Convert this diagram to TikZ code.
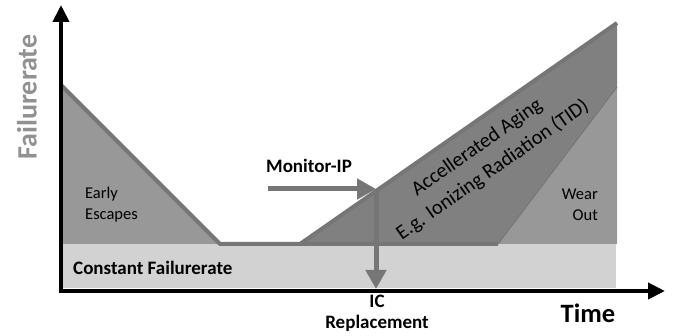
\documentclass[tikz,border=0pt]{standalone}
\usepackage{fontspec}
\setmainfont{Carlito}
\usetikzlibrary{arrows.meta}
\definecolor{lightarea}{RGB}{210,210,210}
\definecolor{midarea}{RGB}{152,152,152}
\definecolor{darkarea}{RGB}{128,128,128}
\definecolor{edgegray}{RGB}{118,118,118}
\definecolor{labelgray}{RGB}{145,145,145}

\begin{document}
\begin{tikzpicture}[x=1pt,y=-1pt,>=Latex]
\tikzstyle{edgeline}=[edgegray,line width=4pt,line join=round]
\tikzstyle{axisline}=[black,line width=4pt,-{Triangle[length=17pt,width=16pt]}]
\tikzstyle{markarrow}=[edgegray,line width=5pt,-{Triangle[length=19pt,width=20pt]}]
\tikzstyle{plainlabel}=[inner sep=0pt,font=\fontsize{16.5}{21}\selectfont]
\tikzstyle{boldlabel}=[inner sep=0pt,font=\fontsize{19}{21}\selectfont\bfseries]
\useasboundingbox (0,0) rectangle (673,336);
% areas
\fill[lightarea] (62,244) rectangle (616,288);
\fill[midarea] (61,85) -- (220,244) -- (61,244) -- cycle;
\fill[darkarea] (300,244) -- (617,23) -- (617,87) -- (498,244) -- cycle;
\fill[midarea] (498,244) -- (617,87) -- (617,244) -- cycle;
% edges
\draw[edgeline] (61,85) -- (220,244) -- (498,244);
\draw[edgeline] (300,244) -- (617,23);
\draw[edgegray,line width=1pt] (498,244) -- (617,87);
% axes
\coordinate (origin) at (61,291);
\coordinate (ytop) at (61,5);
\coordinate (xend) at (665,291);
\draw[axisline] (origin) -- (ytop);
\draw[axisline] ([xshift=-2pt]origin) -- (xend);
% monitor arrows
\coordinate (mstart) at (268,189);
\coordinate (hit) at (376,189);
\coordinate (icpt) at (376,289);
\draw[markarrow] (mstart) -- (hit);
\draw[markarrow] ([yshift=-2pt]hit) -- (icpt);
% labels
\node[inner sep=0pt,rotate=90,text=labelgray,font=\fontsize{28}{30}\selectfont\bfseries] (yname) at (27,97) {Failurerate};
\node[inner sep=0pt,font=\fontsize{26.5}{30}\selectfont\bfseries] (xname) at (588,313) {Time};
\node[plainlabel,anchor=west,align=left] (early) at (85,205) {Early\\Escapes};
\node[boldlabel,anchor=west] (const) at (73,268) {Constant Failurerate};
\node[boldlabel] (monitor) at (309,166) {Monitor-IP};
\node[boldlabel,align=center] (repl) at (377,313) {IC\\Replacement};
\node[plainlabel,anchor=east,align=right] (wear) at (598,205) {Wear\\Out};
\node[inner sep=0pt,rotate=35,align=center,font=\fontsize{20.5}{27.5}\selectfont] (aging) at (485,159) {Accellerated Aging\\E.g. Ionizing Radiation (TID)};
\end{tikzpicture}
\end{document}
